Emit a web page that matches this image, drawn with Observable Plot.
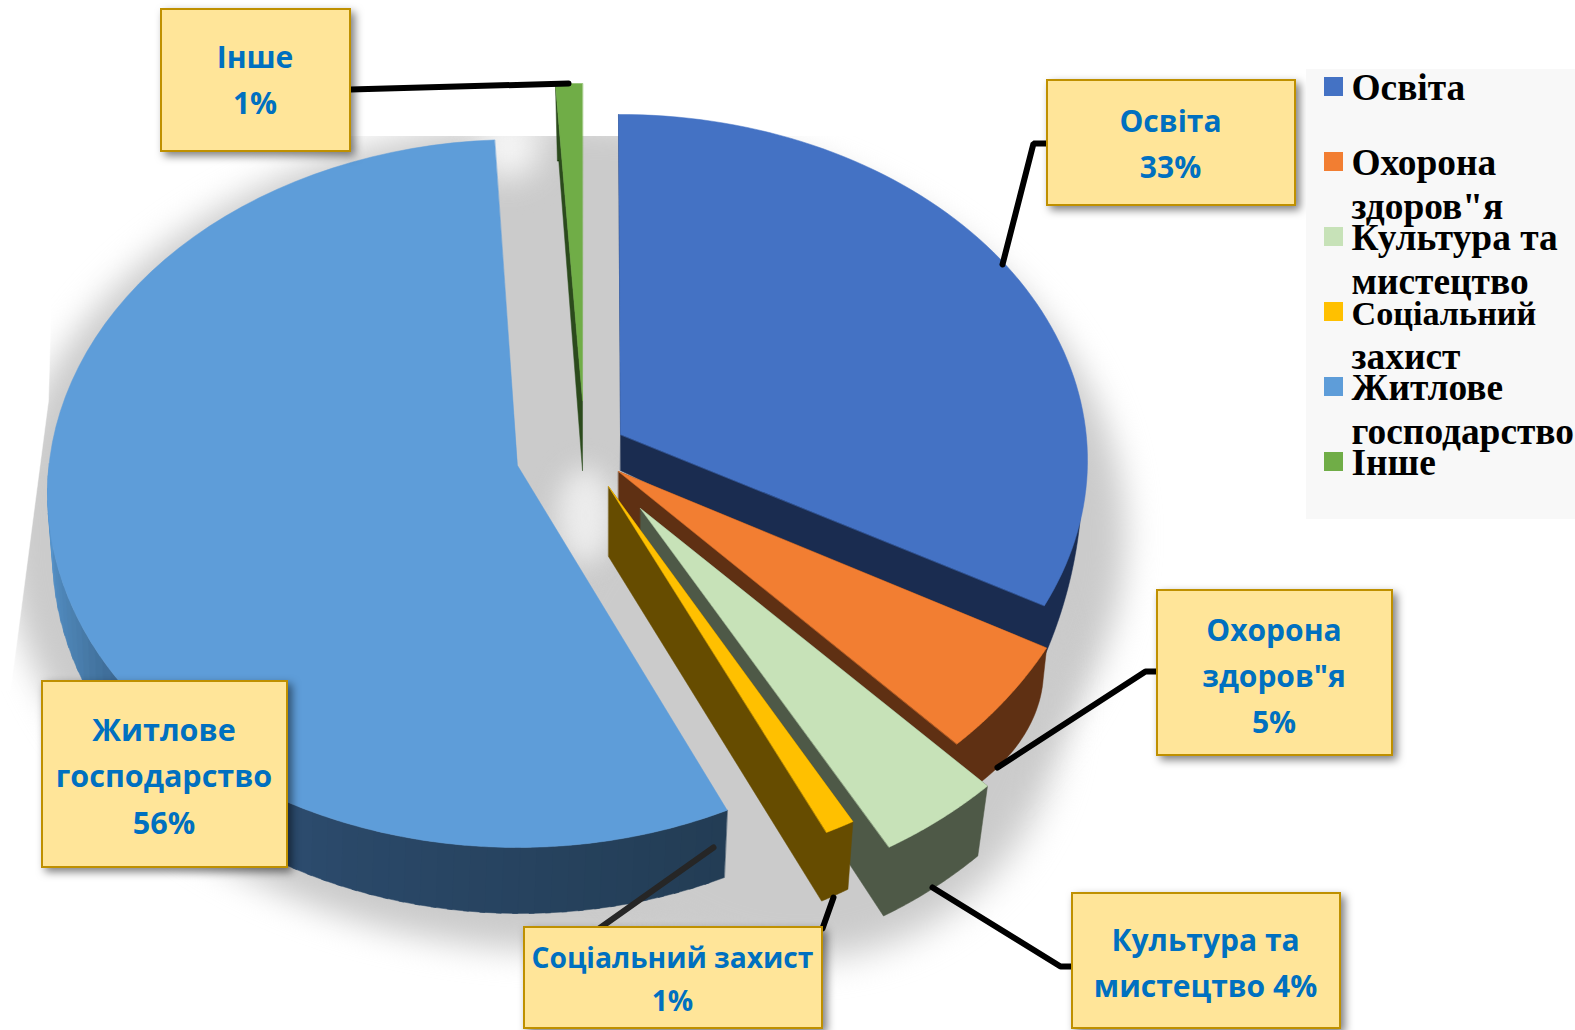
<!DOCTYPE html>
<html><head><meta charset="utf-8">
<style>html,body{margin:0;padding:0;background:#fff;overflow:hidden}svg{display:block}</style>
<script src="https://cdn.jsdelivr.net/npm/d3@7"></script>
<script src="https://cdn.jsdelivr.net/npm/@observablehq/plot@0.6"></script>
</head><body><div id="chart"></div>
<script>
const categories = ["Освіта","Охорона здоров\"я","Культура та мистецтво","Соціальний захист","Житлове господарство","Інше"];
const shares = [33,5,4,1,56,1];
const topColors = ["#4472C4","#F27E32","#C7E2B8","#FFC000","#5E9DD9","#70AD47"];
const wallColors = ["#1A2C50","#5F3013","#4E5947","#664C00","#243E56","#2B4A1C"];
const labelTexts = ["Освіта\n33%","Охорона\nздоров\"я\n5%","Культура та\nмистецтво 4%","Соціальний захист\n1%","Житлове\nгосподарство\n56%","Інше\n1%"];
const labelSizes = [30,30,30,28.2,30.5,30];
const labelNudge = [-2.5,-0.5,-1.5,-2.5,-2,-4];
const legendLines = [["Освіта"],["Охорона","здоров\"я"],["Культура та","мистецтво"],["Соціальний","захист"],["Житлове","господарство"],["Інше"]];
const legendSizes = {"Соціальний":34.2};

// Layout of the tilted, exploded pie (perspective ellipses per slice)
const topShape = [
  {cx:620,cy:460,rx:467,ry:346,ax:620,ay:434,d0:-0.25,d1:-4},
  {cx:636,cy:460,rx:468,ry:389,ax:618,ay:471,d0:0,d1:0},
  {cx:655,cy:483,rx:485,ry:415,ax:640,ay:508,d0:0,d1:0},
  {cx:626,cy:489,rx:470,ry:379,ax:608,ay:486,d0:0,d1:0},
  {cx:517,cy:493,rx:470,ry:354,ax:517,ay:465,d0:-1.3,d1:0.8},
  {cx:582,cy:440,rx:470,ry:357,ax:582,ay:400,d0:0.3,d1:0}
];
const baseShape = [
  {cx:640,cy:473,rx:442,ry:450,t0:93,t1:115.6,ax:620,ay:470},
  {cx:755,cy:670,rx:288,ry:179,t0:93,t1:128.5,ax:618,ay:530},
  {cx:659,cy:558,rx:465,ry:408,t0:136.8,t1:151.2,ax:640,ay:545},
  {cx:621,cy:526,rx:470,ry:414,t0:151.2,t1:154.8,ax:608,ay:556},
  {cx:520,cy:553,rx:468,ry:360,t0:154.2,t1:275,ax:520,ay:520},
  {cx:582,cy:460,rx:400,ry:300,t0:356.4,t1:356.6,ax:582,ay:470}
];
const bigWallRamp = ["#233d55","#2a4868","#30557b","#4a7fae","#5b9bd5"];
const boxes = [
  {x1:1047,y1:80,x2:1295,y2:205},
  {x1:1157,y1:590,x2:1392,y2:755},
  {x1:1072,y1:893,x2:1340,y2:1028},
  {x1:524,y1:927,x2:822,y2:1028},
  {x1:42,y1:681,x2:287,y2:867},
  {x1:161,y1:9,x2:350,y2:151}
];
const leaders = [
  {c:"#000",p:[[1047,143],[1033,143],[1002,264]]},
  {c:"#000",p:[[1157,671],[1145,671],[997,767]]},
  {c:"#000",p:[[1072,966],[1060,966],[932,887]]},
  {c:"#000",p:[[822,928],[833,897]]},
  {c:"#262626",p:[[593,932],[713,847]]},
  {c:"#000",p:[[350,89],[568,83]]}
];

const rad = d => d*Math.PI/180;
const pt = (g,t) => [g.cx+g.rx*Math.sin(rad(t)), g.cy-g.ry*Math.cos(rad(t))];
const arc = (g,a,b,n=40) => d3.range(n+1).map(i => pt(g,a+(b-a)*i/n));
const poly = (points,fill,extra={}) => Plot.line(points,{x:d=>d[0],y:d=>d[1],fill,stroke:fill,strokeWidth:0.5,curve:"linear-closed",...extra});

const cum = d3.cumsum(shares);
const starts = shares.map((s,i)=> (cum[i]-s)*3.6 + topShape[i].d0);
const ends = shares.map((s,i)=> cum[i]*3.6 + topShape[i].d1);

function sliceMarks(i){
  const g=topShape[i], b=baseShape[i], marks=[];
  if(i===4){
    const ramp=d3.scaleLinear().domain([155,200,225,250,275]).range(bigWallRamp).interpolate(d3.interpolateRgb).clamp(true);
    const n=60;
    d3.range(n).forEach(k=>{
      const a=b.t0+(b.t1-b.t0)*k/n, c=b.t0+(b.t1-b.t0)*(k+1.3)/n;
      const ta=starts[4]+(a-b.t0), tc=starts[4]+(c-b.t0);
      marks.push(poly([pt(g,ta),pt(g,tc),pt(b,c),pt(b,a)],ramp(a)));
    });
  } else {
    marks.push(poly([[g.ax,g.ay],pt(g,starts[i]),...arc(b,b.t0,b.t1),[b.ax,b.ay]],wallColors[i]));
  }
  marks.push(poly([[g.ax,g.ay],...arc(g,starts[i],ends[i],80)],topColors[i]));
  return marks;
}

const shadow = {cx:565,cy:535,rx:560,ry:415};
const shadowLow = {cx:800,cy:700,rx:260,ry:258};
const glow = {cx:585,cy:515,rx:28,ry:48};
const topFade = {cx:508,cy:146,rx:32,ry:32};
const legendX1=1306,legendX2=1575,legendY1=69,legendY2=519;

const legendRows = legendLines.flatMap((ls,i)=>ls.map((text,j)=>({text,row:i,line:j})));

const chart = Plot.plot({
  width:1575,height:1030,margin:0,
  x:{domain:[0,1575],range:[0,1575],axis:null},
  y:{domain:[0,1030],range:[0,1030],axis:null},
  style:{background:"#fff"},
  marks:[
    poly(arc(shadow,0,360,120),"#cbcbcb",{imageFilter:"blur(16px)"}),
    poly(arc(shadowLow,0,360,120),"#cbcbcb",{imageFilter:"blur(18px)"}),
    poly(arc(glow,0,360,60),"#ececec",{imageFilter:"blur(13px)"}),
    poly(arc(topFade,0,360,60),"#f6f6f6",{imageFilter:"blur(16px)"}),
    Plot.rect([0],{x1:0,x2:1575,y1:0,y2:136,fill:"#fff"}),
    poly([[-30,-30],[60,-30],[48,400],[10,690],[-30,690]],"#fff"),
    ...[5,4,0,1,2,3].flatMap(sliceMarks),
    ...leaders.map(l=>Plot.line(l.p,{x:d=>d[0],y:d=>d[1],stroke:l.c,strokeWidth:6,strokeLinejoin:"miter"})),
    Plot.rect(boxes,{x1:"x1",x2:"x2",y1:"y1",y2:"y2",fill:"#FFE599",stroke:"#BF9000",strokeWidth:2,imageFilter:"drop-shadow(4px 4px 4px rgba(0,0,0,.5))"}),
    Plot.text(boxes,{x:d=>(d.x1+d.x2)/2-1,y:(d,i)=>(d.y1+d.y2)/2+labelNudge[i],text:(d,i)=>labelTexts[i],fill:"#0070C0",fontSize:(d,i)=>labelSizes[i],fontWeight:700,fontFamily:"'Open Sans',sans-serif",lineHeight:1.53}),
    Plot.rect([0],{x1:legendX1,x2:legendX2,y1:legendY1,y2:legendY2,fill:"#f8f8f8"}),
    Plot.rect(shares,{x1:1324,x2:1343,y1:(d,i)=>77+75*i,y2:(d,i)=>96+75*i,fill:(d,i)=>topColors[i]}),
    Plot.text(legendRows,{x:1351,y:d=>99+75*d.row+44*d.line,text:"text",textAnchor:"start",lineAnchor:"bottom",fill:"#000",fontSize:d=>legendSizes[d.text]??37.4,fontWeight:700,fontFamily:"'Liberation Serif',serif"})
  ]
});
document.getElementById("chart").append(chart);
</script></body></html>
